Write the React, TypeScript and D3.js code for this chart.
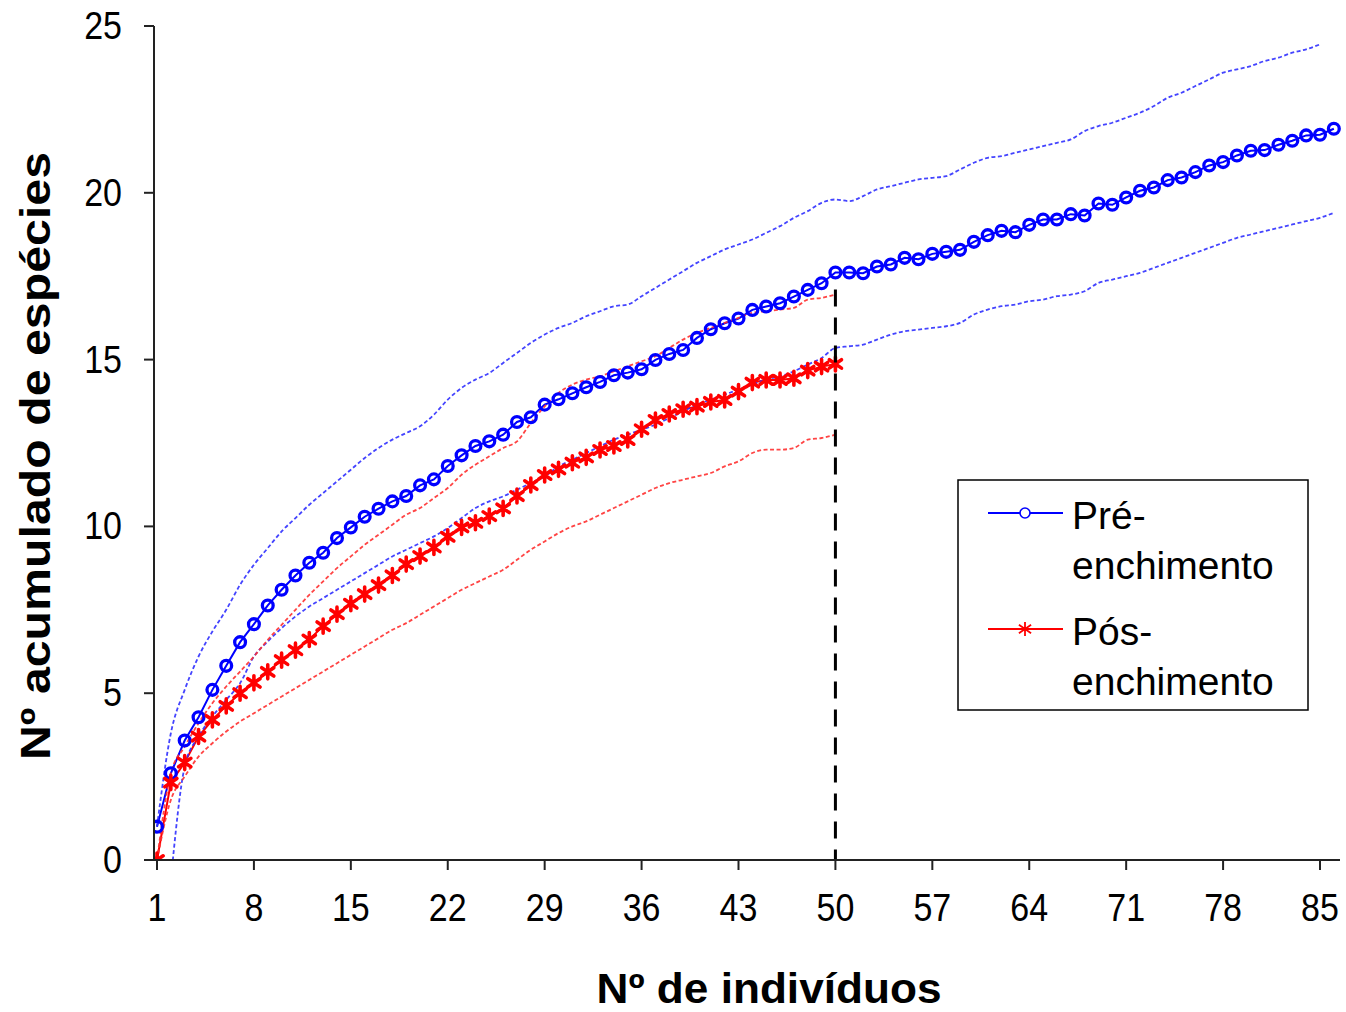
import React from 'react';
import * as d3 from 'd3';

const xTicks = [1, 8, 15, 22, 29, 36, 43, 50, 57, 64, 71, 78, 85];
const yTicks = [0, 5, 10, 15, 20, 25];

// Pré-enchimento (mean, upper and lower bounds), individuals 1..86
const preMean = [
  1.0, 2.6, 3.58, 4.28, 5.1, 5.82, 6.53, 7.07, 7.63, 8.1,
  8.53, 8.91, 9.21, 9.65, 9.97, 10.29, 10.53, 10.75, 10.91, 11.23,
  11.41, 11.81, 12.13, 12.41, 12.55, 12.75, 13.13, 13.27, 13.65, 13.81,
  13.99, 14.17, 14.33, 14.53, 14.61, 14.71, 14.99, 15.17, 15.29, 15.65,
  15.91, 16.09, 16.23, 16.49, 16.59, 16.69, 16.89, 17.09, 17.29, 17.61,
  17.61, 17.59, 17.79, 17.85, 18.05, 18.01, 18.17, 18.23, 18.29, 18.53,
  18.73, 18.86, 18.82, 19.04, 19.2, 19.2, 19.36, 19.32, 19.68, 19.64,
  19.86, 20.06, 20.16, 20.38, 20.46, 20.62, 20.82, 20.92, 21.12, 21.26,
  21.28, 21.44, 21.56, 21.72, 21.74, 21.92,
];
const preUpper = [
  1.0, 3.8, 5.1, 6.1, 6.85, 7.5, 8.25, 8.85, 9.35, 9.85,
  10.25, 10.65, 11.0, 11.35, 11.7, 12.05, 12.35, 12.6, 12.8, 13.0,
  13.35, 13.8, 14.15, 14.4, 14.6, 14.9, 15.2, 15.5, 15.75, 15.95,
  16.1, 16.3, 16.45, 16.6, 16.65, 16.9, 17.15, 17.4, 17.65, 17.9,
  18.1, 18.3, 18.45, 18.6, 18.8, 19.0, 19.25, 19.45, 19.7, 19.8,
  19.75, 19.9, 20.1, 20.2, 20.3, 20.4, 20.45, 20.5, 20.7, 20.9,
  21.05, 21.1, 21.2, 21.3, 21.4, 21.5, 21.6, 21.85, 22.0, 22.1,
  22.25, 22.4, 22.6, 22.85, 23.0, 23.2, 23.4, 23.6, 23.7, 23.8,
  23.95, 24.05, 24.2, 24.3, 24.45,
];
const preLower = [
  null, -0.6, 2.8, 3.7, 4.3, 4.8, 5.3, 6.1, 6.55, 6.95,
  7.3, 7.6, 7.85, 8.1, 8.35, 8.6, 8.85, 9.1, 9.3, 9.5,
  9.7, 9.95, 10.25, 10.55, 10.75, 10.9, 11.1, 11.3, 11.5, 11.8,
  12.0, 12.2, 12.4, 12.6, 12.75, 12.9, 13.05, 13.25, 13.45, 13.65,
  13.8, 13.95, 14.1, 14.25, 14.4, 14.5, 14.65, 14.85, 15.05, 15.35,
  15.4, 15.45, 15.6, 15.75, 15.85, 15.9, 15.95, 16.0, 16.1, 16.35,
  16.5, 16.6, 16.65, 16.75, 16.8, 16.9, 16.95, 17.05, 17.3, 17.4,
  17.5, 17.6, 17.75, 17.9, 18.05, 18.2, 18.35, 18.5, 18.65, 18.75,
  18.85, 18.95, 19.05, 19.15, 19.25, 19.4,
];

// Pós-enchimento, individuals 1..50
const posMean = [
  0, 2.32, 2.92, 3.7, 4.2, 4.62, 5.0, 5.31, 5.64, 5.99,
  6.29, 6.61, 7.01, 7.37, 7.68, 7.97, 8.24, 8.53, 8.87, 9.11,
  9.37, 9.69, 9.97, 10.11, 10.31, 10.54, 10.91, 11.24, 11.54, 11.71,
  11.91, 12.07, 12.29, 12.41, 12.59, 12.91, 13.19, 13.37, 13.51, 13.59,
  13.73, 13.79, 14.04, 14.31, 14.39, 14.39, 14.44, 14.67, 14.79, 14.87,
];
const posUpper = [
  0, 2.6, 3.4, 4.1, 4.7, 5.2, 5.65, 6.1, 6.6, 7.05,
  7.5, 7.95, 8.35, 8.75, 9.1, 9.45, 9.75, 10.05, 10.35, 10.55,
  10.85, 11.15, 11.55, 11.85, 12.1, 12.35, 12.55, 13.1, 13.6, 14.0,
  14.25, 14.4, 14.5, 14.65, 14.8, 14.95, 15.1, 15.35, 15.6, 15.8,
  15.95, 16.1, 16.25, 16.4, 16.45, 16.5, 16.55, 16.8, 16.85, 16.95,
];
const posLower = [
  0, 1.8, 2.5, 3.1, 3.5, 3.85, 4.15, 4.4, 4.65, 4.9,
  5.15, 5.4, 5.65, 5.9, 6.15, 6.4, 6.65, 6.9, 7.1, 7.35,
  7.6, 7.85, 8.1, 8.3, 8.5, 8.7, 9.0, 9.3, 9.55, 9.8,
  10.0, 10.15, 10.35, 10.55, 10.75, 10.95, 11.15, 11.3, 11.4, 11.5,
  11.6, 11.8, 11.95, 12.2, 12.3, 12.3, 12.35, 12.6, 12.65, 12.75,
];

const dividerIndividual = 50;
const legendEntries = [
  { lines: ['Pré-', 'enchimento'], color: '#0000ff', marker: 'circle' },
  { lines: ['Pós-', 'enchimento'], color: '#ff0000', marker: 'star' },
];
const xTitle = 'Nº de indivíduos';
const yTitle = 'Nº acumulado de espécies';

const FONT = "'Liberation Sans', Arial, Helvetica, sans-serif";

type P = [number, number | null];

function starPath(cx: number, cy: number, s: number) {
  const a = s * 0.87;
  const b = s * 0.6;
  return `M${cx},${cy - s}L${cx},${cy + s}M${cx - a},${cy - b}L${cx + a},${cy + b}M${cx - a},${cy + b}L${cx + a},${cy - b}`;
}

export default function App() {
  const W = 1346;
  const H = 1012;
  const axisX = 154;
  const x = d3.scaleLinear().domain([1, 85]).range([157, 1320]);
  const y = d3.scaleLinear().domain([0, 25]).range([860, 26]);

  const pts = (arr: (number | null)[]): P[] => arr.map((v, i) => [i + 1, v]);

  const straight = d3
    .line<P>()
    .defined((d) => d[1] !== null)
    .x((d) => x(d[0]))
    .y((d) => y(d[1] as number));
  const smooth = d3
    .line<P>()
    .defined((d) => d[1] !== null)
    .x((d) => x(d[0]))
    .y((d) => y(d[1] as number))
    .curve(d3.curveMonotoneX);

  const blue = '#0000ff';
  const red = '#ff0000';

  return (
    <svg
      width={W}
      height={H}
      viewBox={`0 0 ${W} ${H}`}
      style={{ position: 'absolute', left: 0, top: 0, background: '#fff' }}
      fontFamily={FONT}
    >
      <defs>
        <clipPath id="plot">
          <rect x={axisX} y={y(25) - 2} width={W - axisX} height={y(0) - y(25) + 2} />
        </clipPath>
      </defs>
      <rect x={0} y={0} width={W} height={H} fill="#fff" />

      <g clipPath="url(#plot)">
        {/* mean lines */}
        <path d={straight(pts(preMean)) || ''} fill="none" stroke={blue} strokeWidth={2} />
        <path d={straight(pts(posMean)) || ''} fill="none" stroke={red} strokeWidth={2} />

        {/* confidence bands */}
        <path d={smooth(pts(preUpper)) || ''} fill="none" stroke="#3030ff" strokeWidth={1.8} strokeDasharray="4 2.5" opacity={0.9} />
        <path d={smooth(pts(preLower)) || ''} fill="none" stroke="#3030ff" strokeWidth={1.8} strokeDasharray="4 2.5" opacity={0.9} />
        <path d={smooth(pts(posUpper)) || ''} fill="none" stroke="#ff3030" strokeWidth={1.8} strokeDasharray="4 2.5" opacity={0.9} />
        <path d={smooth(pts(posLower)) || ''} fill="none" stroke="#ff3030" strokeWidth={1.8} strokeDasharray="4 2.5" opacity={0.9} />

        {/* markers */}
        {preMean.map((v, i) => (
          <circle key={'c' + i} cx={x(i + 1)} cy={y(v)} r={5.4} fill="none" stroke={blue} strokeWidth={3.3} />
        ))}
        {posMean.map((v, i) => (
          <path key={'s' + i} d={starPath(x(i + 1), y(v), 7)} fill="none" stroke={red} strokeWidth={3.6} strokeLinecap="round" />
        ))}
      </g>

      {/* vertical dashed divider */}
      <line
        x1={x(dividerIndividual)}
        x2={x(dividerIndividual)}
        y1={y(posUpper[dividerIndividual - 1] + 0.15)}
        y2={y(0)}
        stroke="#000"
        strokeWidth={3}
        strokeDasharray="17 11"
      />

      {/* axes */}
      <line x1={axisX} x2={axisX} y1={y(25)} y2={y(0) + 1} stroke="#222" strokeWidth={2} />
      <line x1={axisX - 1} x2={1340} y1={y(0)} y2={y(0)} stroke="#222" strokeWidth={2} />
      {yTicks.map((t) => (
        <g key={'yt' + t}>
          <line x1={axisX - 10} x2={axisX} y1={y(t)} y2={y(t)} stroke="#222" strokeWidth={2} />
          <text
            transform={`translate(122, ${y(t) + 13}) scale(1, 1.15)`}
            textAnchor="end"
            fontSize={34}
            fill="#000"
          >
            {t}
          </text>
        </g>
      ))}
      {xTicks.map((t) => (
        <g key={'xt' + t}>
          <line x1={x(t)} x2={x(t)} y1={y(0)} y2={y(0) + 10} stroke="#222" strokeWidth={2} />
          <text
            transform={`translate(${x(t)}, 921) scale(1, 1.15)`}
            textAnchor="middle"
            fontSize={34}
            fill="#000"
          >
            {t}
          </text>
        </g>
      ))}

      {/* axis titles */}
      <text
        x={769}
        y={1003}
        textAnchor="middle"
        fontSize={42}
        fontWeight="bold"
        textLength={345}
        lengthAdjust="spacingAndGlyphs"
      >
        {xTitle}
      </text>
      <text
        transform="translate(50, 456) rotate(-90)"
        textAnchor="middle"
        fontSize={42}
        fontWeight="bold"
        textLength={608}
        lengthAdjust="spacingAndGlyphs"
      >
        {yTitle}
      </text>

      {/* legend */}
      <rect x={958} y={480} width={350} height={230} fill="#fff" stroke="#000" strokeWidth={1.5} />
      {legendEntries.map((e, i) => {
        const ly = 513 + i * 116;
        return (
          <g key={'lg' + i}>
            <line x1={988} x2={1063} y1={ly} y2={ly} stroke={e.color} strokeWidth={2} />
            {e.marker === 'circle' ? (
              <circle cx={1025} cy={ly} r={5} fill="#fff" stroke={e.color} strokeWidth={1.6} />
            ) : (
              <path d={starPath(1025, ly, 7)} stroke={e.color} strokeWidth={1.8} fill="none" />
            )}
            <text x={1072} y={ly + 16} fontSize={39} fill="#000">
              {e.lines[0]}
            </text>
            <text x={1072} y={ly + 66} fontSize={39} fill="#000">
              {e.lines[1]}
            </text>
          </g>
        );
      })}
    </svg>
  );
}
